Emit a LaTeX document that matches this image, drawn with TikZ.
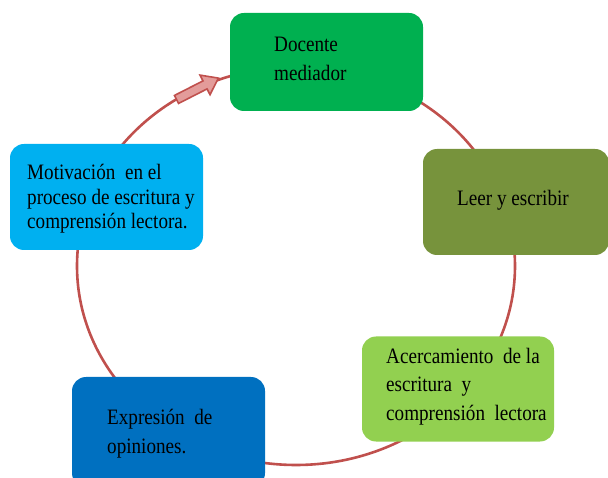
\documentclass[tikz,border=0pt]{standalone}
\usepackage{fontspec}
\setmainfont{Liberation Serif}[FakeStretch=0.87]
\definecolor{ringred}{HTML}{C0504D}
\definecolor{arrowpink}{HTML}{E39C9A}
\definecolor{cdoc}{HTML}{00B050}
\definecolor{cleer}{HTML}{77933C}
\definecolor{cmot}{HTML}{00B0F0}
\definecolor{cacer}{HTML}{92D050}
\definecolor{cexpr}{HTML}{0070C0}
\begin{document}
\begin{tikzpicture}[x=1pt,y=-1pt,
  cyclebox/.style={rectangle, rounded corners=14pt, draw=none, inner sep=0pt},
  boxtext/.style={anchor=base west, inner sep=0pt, align=left, text=black}]
\useasboundingbox (0,0) rectangle (608,478);
\clip (0,0) rectangle (608,478);
% ring
\draw[ringred, line width=2.6pt] (296,266) ellipse [x radius=219, y radius=199];
% boxes
\node[cyclebox, fill=cdoc, minimum width=193pt, minimum height=98pt] (doc) at (326.5,62) {};
\node[cyclebox, fill=cleer, minimum width=186pt, minimum height=106pt] (leer) at (516,202) {};
\node[cyclebox, fill=cmot, minimum width=193pt, minimum height=106pt] (mot) at (106.5,197) {};
\node[cyclebox, fill=cacer, minimum width=192pt, minimum height=105pt] (acer) at (458,389) {};
\node[cyclebox, fill=cexpr, minimum width=193pt, minimum height=110pt] (expr) at (168.5,432) {};
% texts (anchored at the baseline of the last line)
\node[boxtext, font={\fontsize{22}{29}\selectfont}] (tdoc) at (274,81) {Docente\\mediador};
\node[boxtext, font={\fontsize{22}{29}\selectfont}] (tleer) at (457,206) {Leer y escribir};
\node[boxtext, font={\fontsize{22}{24.5}\selectfont}] (tmot) at (27,229) {Motivación\ \ en el\\proceso de escritura y\\comprensión lectora.};
\node[boxtext, font={\fontsize{22}{28.5}\selectfont}] (tacer) at (386,420) {Acercamiento\ \ de la\\escritura\ \ y\\comprensión\ \ lectora};
\node[boxtext, font={\fontsize{22}{29}\selectfont}] (texpr) at (107,453) {Expresión\ \ de\\opiniones.};
% arrow marker on the ring
\begin{scope}[shift={(197,89)}, rotate=27]
\draw[ringred, fill=arrowpink, line width=1.6pt, line join=miter]
  (-23,-4.5) -- (9,-4.5) -- (9,-11) -- (24,0) -- (9,11) -- (9,4.5) -- (-23,4.5) -- cycle;
\end{scope}
\end{tikzpicture}
\end{document}
